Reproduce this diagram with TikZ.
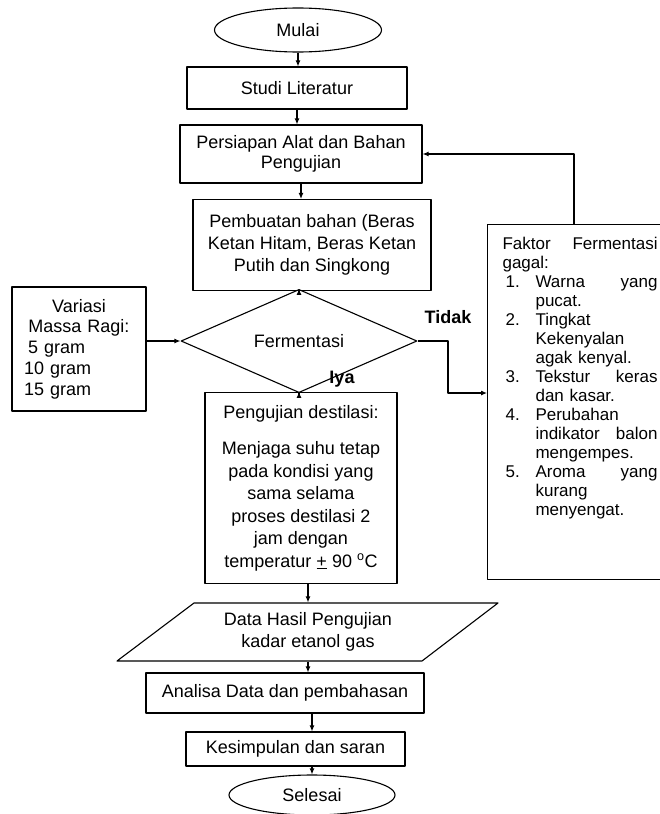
\documentclass[tikz,border=0pt]{standalone}
\usepackage{fontspec}
\setmainfont{Liberation Sans}
\usetikzlibrary{shapes.geometric,arrows.meta}
\begin{document}
\begin{tikzpicture}[x=1pt, y=-1pt, line width=1.1pt, line join=round, >={Latex[length=6pt,width=5pt]},
    font=\fontsize{18}{22}\selectfont,
    box/.style={draw, rectangle, inner sep=0pt, align=center},
    term/.style={draw, ellipse, inner sep=0pt},
    lbl/.style={inner sep=0pt, font=\fontsize{18}{22}\selectfont\bfseries}]
    \def\itm#1{\makebox[33pt][l]{\hspace*{3pt}#1.}}
    \def\ind{\hspace*{33pt}}
    \def\jl#1#2#3{\makebox[#1pt][l]{#2\hfill#3}}
    \useasboundingbox (0,0) rectangle (660,814);
    \node[term, minimum width=167pt, minimum height=44pt] (mulai) at (298,30) {Mulai};
    \node[box, minimum width=220pt, minimum height=42pt] (studi) at (297,88) {Studi Literatur};
    \node[box, minimum width=242pt, minimum height=58pt] (persiapan) at (301,154) {Persiapan Alat dan Bahan\\[-2pt]Pengujian};
    \node[box, minimum width=238pt, minimum height=91pt] (pembuatan) at (312,245) {Pembuatan bahan (Beras\\Ketan Hitam, Beras Ketan\\Putih dan Singkong};
    \node[draw, diamond, inner sep=0pt, minimum width=236pt, minimum height=76pt] (ferm) at (299,341) {Fermentasi};
    \node[box, minimum width=134pt, minimum height=118pt, inner sep=12pt, text width=110pt, align=left,
        font=\fontsize{18}{20.8}\selectfont] (variasi) at (79,349)
        {\makebox[110pt]{Variasi}\\\makebox[110pt]{Massa Ragi:}\\\hspace*{4pt}5 gram\\10 gram\\15 gram};
    \node[lbl] (tidak) at (448,317) {Tidak};
    \node[lbl] (iya) at (342,379) {Iya};
    \node[box, minimum width=192pt, minimum height=191pt, font=\fontsize{18}{22.5}\selectfont] (uji) at (301,488)
        {Pengujian destilasi:\\[14pt]Menjaga suhu tetap\\pada kondisi yang\\sama selama\\proses destilasi 2\\jam dengan\\temperatur \underline{+} 90 \textsuperscript{o}C};
    \node[draw, rectangle, inner sep=0pt, minimum width=200pt, minimum height=355pt, anchor=north west] (faktor) at (487,224) {};
    \node[inner sep=0pt, anchor=north west, text width=160pt, align=left, font=\fontsize{17}{19}\selectfont] (faktortxt) at (502,237)
        {\jl{155}{Faktor}{Fermentasi}\\gagal:\\
        \itm{1}\jl{122}{Warna}{yang}\\\ind pucat.\\
        \itm{2}Tingkat\\\ind Kekenyalan\\\ind agak kenyal.\\
        \itm{3}\jl{122}{Tekstur}{keras}\\\ind dan kasar.\\
        \itm{4}Perubahan\\\ind\jl{122}{indikator}{balon}\\\ind mengempes.\\
        \itm{5}\jl{122}{Aroma}{yang}\\\ind kurang\\\ind menyengat.};
    \node[minimum height=58pt, inner sep=0pt, align=center] (data) at (308,632) {Data Hasil Pengujian\\kadar etanol gas};
    \draw (194,603) -- (498,603) -- (422,661) -- (117,661) -- cycle;
    \node[box, minimum width=278pt, minimum height=40pt] (analisa) at (285,693) {Analisa Data dan pembahasan};
    \node[box, minimum width=219pt, minimum height=34pt] (kesimpulan) at (295.5,749) {Kesimpulan dan saran};
    \node[term, minimum width=166pt, minimum height=40pt] (selesai) at (312,795) {Selesai};
    \coordinate (belok) at (448,393);
    \draw[->] (mulai.south) -- (mulai.south |- studi.north);
    \draw[->] (studi.south) -- (studi.south |- persiapan.north);
    \draw[->] (persiapan.south) -- (persiapan.south |- pembuatan.north);
    \draw[->] (ferm.north |- pembuatan.south) -- (ferm.north);
    \draw[->] (variasi.east |- ferm.west) -- (ferm.west);
    \draw[->] (ferm.south) -- (ferm.south |- uji.north);
    \draw[->] (ferm.east) -| (belok) -- (belok -| faktor.west);
    \draw[->] ([xshift=87pt]faktor.north west) |- (persiapan.east);
    \draw[->] (data.north |- uji.south) -- (data.north);
    \draw[->] (data.south) -- (data.south |- analisa.north);
    \draw[->] (selesai.north |- analisa.south) -- (selesai.north |- kesimpulan.north);
    \draw[->] (selesai.north |- kesimpulan.south) -- (selesai.north);
\end{tikzpicture}
\end{document}
